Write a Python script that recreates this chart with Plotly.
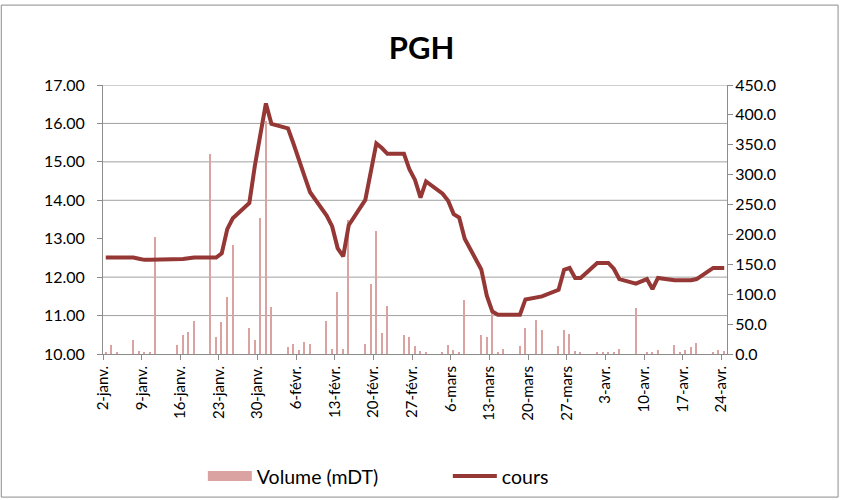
import plotly.graph_objects as go

# ---------------- data ----------------
dates = [
    "2013-01-02", "2013-01-03", "2013-01-04", "2013-01-07", "2013-01-08", "2013-01-09", "2013-01-10", "2013-01-11",
    "2013-01-15", "2013-01-16", "2013-01-17", "2013-01-18", "2013-01-21", "2013-01-22", "2013-01-23", "2013-01-24",
    "2013-01-25", "2013-01-28", "2013-01-29", "2013-01-30", "2013-01-31",
    "2013-02-01", "2013-02-04", "2013-02-05", "2013-02-06", "2013-02-07", "2013-02-08", "2013-02-11", "2013-02-12",
    "2013-02-13", "2013-02-14", "2013-02-15", "2013-02-18", "2013-02-19", "2013-02-20", "2013-02-21", "2013-02-22",
    "2013-02-25", "2013-02-26", "2013-02-27", "2013-02-28",
    "2013-03-01", "2013-03-04", "2013-03-05", "2013-03-06", "2013-03-07", "2013-03-08", "2013-03-11", "2013-03-12",
    "2013-03-13", "2013-03-14", "2013-03-15", "2013-03-18", "2013-03-19", "2013-03-21", "2013-03-22", "2013-03-25",
    "2013-03-26", "2013-03-27", "2013-03-28", "2013-03-29",
    "2013-04-01", "2013-04-02", "2013-04-03", "2013-04-04", "2013-04-05", "2013-04-08", "2013-04-10", "2013-04-11",
    "2013-04-12", "2013-04-15", "2013-04-16", "2013-04-17", "2013-04-18", "2013-04-19", "2013-04-22", "2013-04-23",
    "2013-04-24",
]

cours = [
    12.51, 12.51, 12.51, 12.51, 12.48, 12.45, 12.45, 12.45,
    12.45, 12.47, 12.49, 12.51, 12.51, 12.51, 12.62, 13.25,
    13.53, 13.93, 14.90, 15.69, 16.52,
    15.99, 15.87, 15.47, 15.08, 14.62, 14.21, 13.60, 13.32,
    12.75, 12.54, 13.35, 14.01, 14.73, 15.48, 15.36, 15.21,
    15.21, 14.80, 14.53, 14.07,
    14.49, 14.17, 13.99, 13.64, 13.55, 13.00, 12.20, 11.52,
    11.11, 11.02, 11.02, 11.02, 11.42, 11.48, 11.50, 11.67,
    12.19, 12.24, 11.98, 11.98,
    12.37, 12.37, 12.37, 12.22, 11.95, 11.83, 11.95, 11.69,
    11.98, 11.92, 11.92, 11.92, 11.92, 11.95, 12.24, 12.24,
    12.24,
]

volume = [
    2.8, 14.5, 2.2, 24.0, 5.6, 3.9, 2.2, 195.0,
    15.0, 32.0, 37.0, 56.0, 334.0, 28.0, 53.0, 96.0,
    182.0, 43.0, 24.0, 227.0, 390.0,
    78.0, 11.0, 16.7, 6.0, 20.0, 16.7, 56.0, 8.5,
    103.0, 8.5, 224.0, 16.7, 117.0, 205.0, 35.0, 80.7,
    32.0, 28.5, 12.7, 5.5,
    1.8, 3.8, 14.7, 7.0, 3.7, 89.6, 31.5, 28.0,
    68.0, 3.5, 9.0, 12.7, 43.0, 57.5, 40.6, 12.7,
    40.6, 34.0, 5.6, 3.9,
    2.2, 3.9, 3.9, 3.9, 8.9, 77.0, 3.9, 3.9,
    7.2, 15.0, 1.7, 7.2, 11.0, 19.0, 2.2, 7.2,
    4.4,
]

tick_dates = [
    "2013-01-02", "2013-01-09", "2013-01-16", "2013-01-23", "2013-01-30", "2013-02-06", "2013-02-13",
    "2013-02-20", "2013-02-27", "2013-03-06", "2013-03-13", "2013-03-20", "2013-03-27", "2013-04-03",
    "2013-04-10", "2013-04-17", "2013-04-24",
]
tick_labels = [
    "2-janv.", "9-janv.", "16-janv.", "23-janv.", "30-janv.", "6-févr.", "13-févr.",
    "20-févr.", "27-févr.", "6-mars", "13-mars", "20-mars", "27-mars", "3-avr.",
    "10-avr.", "17-avr.", "24-avr.",
]

grid_levels = [11, 12, 14, 15, 16, 17]

# ---------------- styling ----------------
DAY = 86400000
BAR_COLOR = "#DAA2A1"
LINE_COLOR = "#953735"
AXIS_COLOR = "#8C8C8C"
GRID_COLOR = "#A0A0A0"
FONT = "Lato, 'Open Sans', sans-serif"

fig = go.Figure()

# legend proxy for the bars (wide swatch like the original)
fig.add_trace(go.Scatter(
    x=[None], y=[None], mode="lines", name="Volume (mDT)",
    line=dict(color=BAR_COLOR, width=10), legendgroup="vol", yaxis="y",
))

fig.add_trace(go.Bar(
    x=dates, y=volume, name="Volume (mDT)", yaxis="y",
    xperiod=DAY, xperiodalignment="middle", width=0.27 * DAY,
    marker=dict(color=BAR_COLOR, line=dict(width=0)),
    showlegend=False, legendgroup="vol",
))

fig.add_trace(go.Scatter(
    x=dates, y=cours, name="cours", yaxis="y2", mode="lines",
    xperiod=DAY, xperiodalignment="middle",
    line=dict(color=LINE_COLOR, width=4),
))

for g in grid_levels:
    fig.add_shape(type="line", xref="paper", yref="y2", x0=0, x1=1, y0=g, y1=g,
                  line=dict(color=GRID_COLOR, width=1), layer="below")

# outer chart border
fig.add_shape(type="rect", xref="paper", yref="paper",
              x0=-0.163, x1=1.178, y0=-0.532, y1=1.297,
              line=dict(color="#8C8C8C", width=1), layer="below")

fig.update_layout(
    width=843, height=500,
    margin=dict(l=103, r=116, t=85, b=146, autoexpand=False),
    paper_bgcolor="white", plot_bgcolor="white",
    font=dict(family=FONT, size=16, color="#000000"),
    title=dict(text="<b>PGH</b>", x=0.5, xref="container", xanchor="center",
               y=0.904, yref="container", yanchor="middle",
               font=dict(size=31, family=FONT, color="#000000")),
    showlegend=True,
    legend=dict(orientation="h", x=0.16, xanchor="left", y=-0.455, yanchor="middle",
                font=dict(size=19.5), itemwidth=44, entrywidth=186, entrywidthmode="pixels",
                bgcolor="rgba(0,0,0,0)"),
    bargap=0,
    xaxis=dict(
        type="date", range=["2013-01-02", "2013-04-25"],
        tickmode="array", tickvals=tick_dates, ticktext=tick_labels, tickangle=-90,
        ticks="outside", ticklen=5, tickcolor=AXIS_COLOR,
        showline=True, linecolor=AXIS_COLOR, linewidth=1,
        showgrid=False, zeroline=False, tickfont=dict(size=15),
    ),
    yaxis=dict(
        side="right", range=[0, 450], dtick=50, tickformat=".1f",
        ticks="outside", ticklen=5, tickcolor=AXIS_COLOR,
        showline=True, linecolor=AXIS_COLOR, linewidth=1,
        showgrid=False, zeroline=False, tickfont=dict(size=16),
        ticklabelstandoff=-1,
    ),
    yaxis2=dict(
        overlaying="y", side="left", range=[10, 17], dtick=1, tickformat=".2f",
        ticks="outside", ticklen=5, tickcolor=AXIS_COLOR,
        showline=True, linecolor=AXIS_COLOR, linewidth=1,
        showgrid=False, zeroline=False, tickfont=dict(size=16),
        ticklabelstandoff=9,
    ),
)

fig.write_html(
    "out.html",
    config={"displayModeBar": False},
    post_script="document.body.style.margin='0';document.body.style.padding='0';",
)
